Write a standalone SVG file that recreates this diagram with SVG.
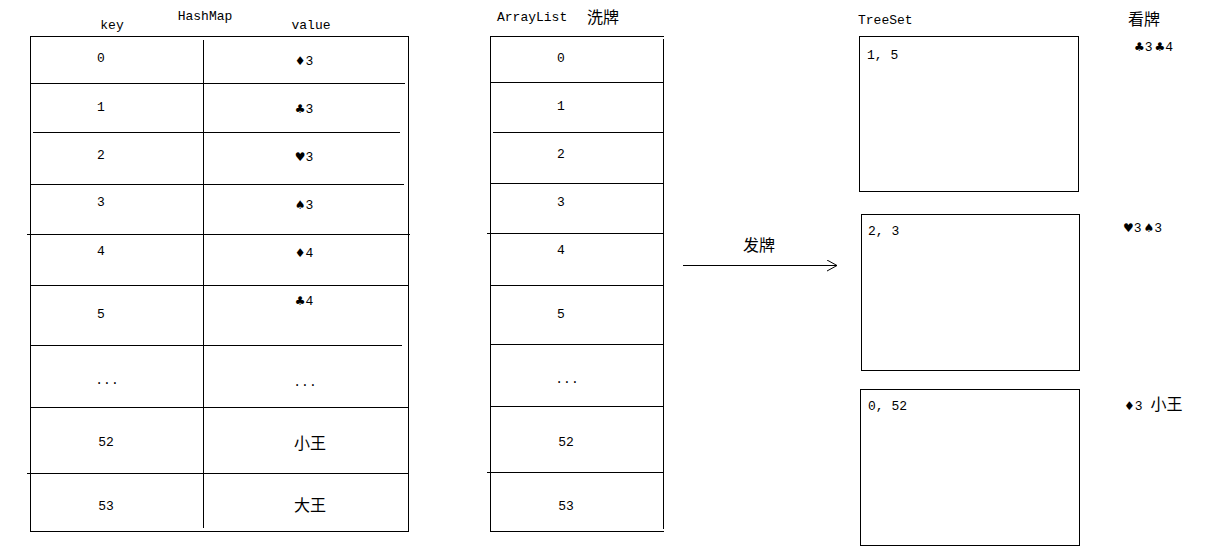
<svg xmlns="http://www.w3.org/2000/svg" width="1213" height="556" viewBox="0 0 1213 556">
<defs>
<style>
.ln{stroke:#000;stroke-width:1;fill:none;shape-rendering:crispEdges}
.t{font-family:"Liberation Mono","DejaVu Sans Mono",monospace;font-size:13px;fill:#000}
.c{font-family:"Noto Sans CJK SC","Liberation Sans",sans-serif;font-size:16px;fill:#000}
.s{font-family:"DejaVu Sans",sans-serif;font-size:12px}
.m{text-anchor:middle}
</style>
<marker id="open" viewBox="0 0 12 12" refX="11" refY="6" markerWidth="12" markerHeight="12" markerUnits="userSpaceOnUse" orient="auto">
<path d="M1,0.5 L11,6 L1,11.5" fill="none" stroke="#000" stroke-width="1"/>
</marker>
</defs>
<rect width="1213" height="556" fill="#fff"/>

<g id="hashmap">
<text class="t m" x="112" y="29">key</text>
<text class="t m" x="205" y="20">HashMap</text>
<text class="t m" x="311" y="29">value</text>
<rect class="ln" x="30.5" y="36.5" width="378" height="495"/>
<line class="ln" x1="203.5" y1="40" x2="203.5" y2="528"/>
<line class="ln" x1="30" y1="83.5" x2="405" y2="83.5"/>
<line class="ln" x1="33" y1="132.5" x2="400" y2="132.5"/>
<line class="ln" x1="30" y1="184.5" x2="404" y2="184.5"/>
<line class="ln" x1="27" y1="234.5" x2="410" y2="234.5"/>
<line class="ln" x1="31" y1="285.5" x2="408" y2="285.5"/>
<line class="ln" x1="30" y1="345.5" x2="402" y2="345.5"/>
<line class="ln" x1="30" y1="407.5" x2="408" y2="407.5"/>
<line class="ln" x1="27" y1="473.5" x2="408" y2="473.5"/>
<g class="t m">
<text x="101" y="62">0</text>
<text x="101" y="111">1</text>
<text x="101" y="159">2</text>
<text x="101" y="206">3</text>
<text x="101" y="255">4</text>
<text x="101" y="318">5</text>
<text x="107" y="384">...</text>
<text x="106" y="446">52</text>
<text x="106" y="510">53</text>
</g>
<g class="t m">
<text x="304" y="65"><tspan class="s">♦</tspan>3</text>
<text x="304" y="113"><tspan class="s">♣</tspan>3</text>
<text x="304" y="161"><tspan class="s">♥</tspan>3</text>
<text x="304" y="209"><tspan class="s">♠</tspan>3</text>
<text x="304" y="257"><tspan class="s">♦</tspan>4</text>
<text x="304" y="305"><tspan class="s">♣</tspan>4</text>
<text x="305" y="386">...</text>
</g>
<text class="c m" x="310" y="449">小王</text>
<text class="c m" x="310" y="511">大王</text>
</g>

<g id="arraylist">
<text class="t" x="497" y="21">ArrayList</text>
<text class="c" x="587" y="23">洗牌</text>
<line class="ln" x1="490" y1="36.5" x2="664" y2="36.5"/>
<line class="ln" x1="490.5" y1="36" x2="490.5" y2="531"/>
<line class="ln" x1="663.5" y1="39" x2="663.5" y2="529"/>
<line class="ln" x1="490" y1="531.5" x2="664" y2="531.5"/>
<line class="ln" x1="490" y1="82.5" x2="664" y2="82.5"/>
<line class="ln" x1="493" y1="132.5" x2="664" y2="132.5"/>
<line class="ln" x1="490" y1="183.5" x2="664" y2="183.5"/>
<line class="ln" x1="487" y1="233.5" x2="664" y2="233.5"/>
<line class="ln" x1="490" y1="285.5" x2="664" y2="285.5"/>
<line class="ln" x1="490" y1="344.5" x2="664" y2="344.5"/>
<line class="ln" x1="490" y1="406.5" x2="664" y2="406.5"/>
<line class="ln" x1="487" y1="472.5" x2="664" y2="472.5"/>
<g class="t m">
<text x="561" y="62">0</text>
<text x="561" y="110">1</text>
<text x="561" y="158">2</text>
<text x="561" y="206">3</text>
<text x="561" y="254">4</text>
<text x="561" y="318">5</text>
<text x="567" y="383">...</text>
<text x="566" y="446">52</text>
<text x="566" y="510">53</text>
</g>
</g>

<g id="connectors">
<line class="ln" x1="683" y1="265.5" x2="837" y2="265.5" marker-end="url(#open)"/>
<text class="c" x="743" y="251">发牌</text>
</g>

<g id="treeset">
<text class="t" x="858" y="24">TreeSet</text>
<text class="c" x="1128" y="25">看牌</text>
</g>

<g id="player1">
<rect class="ln" x="859.5" y="36.5" width="219" height="155"/>
<text class="t" x="867" y="59">1, 5</text>
<text class="t" x="1134" y="51"><tspan class="s">♣</tspan>3<tspan class="s" dx="2">♣</tspan>4</text>
</g>

<g id="player2">
<rect class="ln" x="861.5" y="214.5" width="218" height="156"/>
<text class="t" x="868" y="235">2, 3</text>
<text class="t" x="1123" y="232"><tspan class="s">♥</tspan>3<tspan class="s" dx="2">♠</tspan>3</text>
</g>

<g id="player3">
<rect class="ln" x="860.5" y="389.5" width="219" height="156"/>
<text class="t" x="868" y="410">0, 52</text>
<text class="t" x="1124" y="410"><tspan class="s">♦</tspan>3 <tspan class="c" font-size="15">小王</tspan></text>
</g>
</svg>
